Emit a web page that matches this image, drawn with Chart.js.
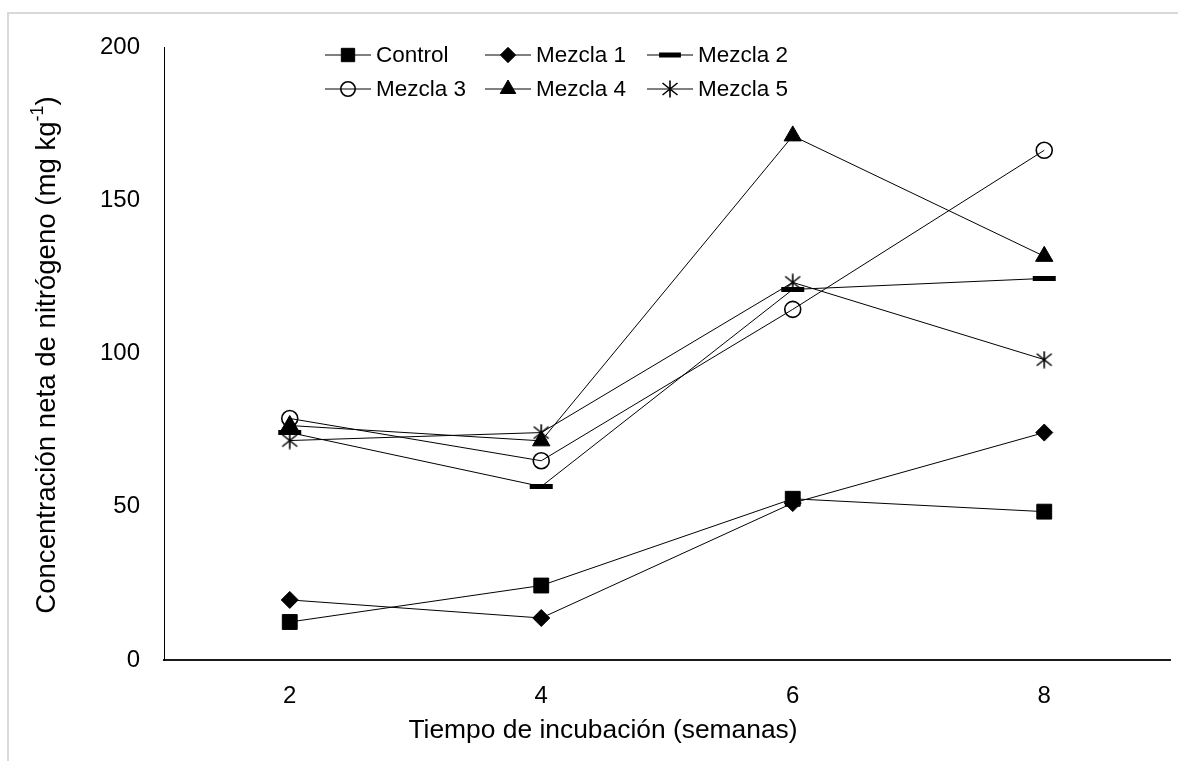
<!DOCTYPE html>
<html>
<head>
<meta charset="utf-8">
<script src="https://cdn.jsdelivr.net/npm/chart.js@4/dist/chart.umd.min.js"></script>
<style>
  html,body{margin:0;padding:0;background:#fff}
  #wrap{position:relative;width:1178px;height:761px;overflow:hidden}
  #frame{position:absolute;left:7px;top:12px;width:1200px;height:800px;border-top:2px solid #d9d9d9;border-left:2px solid #d9d9d9}
  canvas{position:absolute;left:0;top:0}
</style>
</head>
<body>
<div id="wrap">
  <div id="frame"></div>
  <canvas id="chart" width="1178" height="761"></canvas>
</div>
<script>
/* ===== datos ===== */
const semanas = ['2','4','6','8'];
const control = [12.4, 24.3, 52.6, 48.4];
const mezcla1 = [19.6, 13.7, 51.2, 74.2];
const mezcla2 = [74.2, 56.6, 120.9, 124.5];
const mezcla3 = [78.8, 65.0, 114.4, 166.3];
const mezcla4 = [76.5, 71.5, 171.0, 131.7];
const mezcla5 = [71.6, 74.2, 123.2, 98.0];
const nombres = ['Control','Mezcla 1','Mezcla 2','Mezcla 3','Mezcla 4','Mezcla 5'];
const yTicks = [0, 50, 100, 150, 200];

const FONT = '"Liberation Sans", Arial, sans-serif';
const INK = '#000';

// asterisco tipo Excel (X + barra vertical)
function makeStar(){
  const c = document.createElement('canvas');
  c.width = 18; c.height = 18;
  const g = c.getContext('2d');
  g.strokeStyle = INK; g.lineWidth = 1.6;
  g.beginPath();
  g.moveTo(9,0.5); g.lineTo(9,17.5);
  g.moveTo(1.5,3); g.lineTo(16.5,15);
  g.moveTo(16.5,3); g.lineTo(1.5,15);
  g.stroke();
  return c;
}
const starImg = makeStar();

const marks = [
  {pointStyle:'rect',     pointRadius:10.5, pointBorderWidth:1, fill:INK},
  {pointStyle:'rectRot',  pointRadius:8.5,  pointBorderWidth:1, fill:INK},
  {pointStyle:'line',     pointRadius:11.5, pointBorderWidth:5, fill:INK},
  {pointStyle:'circle',   pointRadius:8,    pointBorderWidth:1.6, fill:'rgba(255,255,255,0)'},
  {pointStyle:'triangle', pointRadius:10,   pointBorderWidth:1, fill:INK},
  {pointStyle:starImg,    pointRadius:9,    pointBorderWidth:1, fill:INK}
];
const series = [control, mezcla1, mezcla2, mezcla3, mezcla4, mezcla5];

const datasets = series.map((d,i)=>({
  label: nombres[i], data: d,
  borderColor: INK, borderWidth: 1, tension: 0, fill: false,
  pointStyle: marks[i].pointStyle,
  pointRadius: marks[i].pointRadius,
  pointHoverRadius: marks[i].pointRadius,
  pointBorderWidth: marks[i].pointBorderWidth,
  pointBorderColor: INK,
  pointBackgroundColor: marks[i].fill
}));

/* ===== leyenda y títulos ===== */
const LEG_X = [325, 485, 647], LEG_Y = [55, 89];

const extras = {
  id:'extras',
  afterDraw(chart){
    const ctx = chart.ctx;
    ctx.save();
    // leyenda
    ctx.font = `22.5px ${FONT}`;
    ctx.textBaseline = 'middle';
    ctx.textAlign = 'left';
    nombres.forEach((n,i)=>{
      const x0 = LEG_X[i%3], y = LEG_Y[Math.floor(i/3)];
      ctx.strokeStyle = INK; ctx.lineWidth = 1;
      ctx.beginPath(); ctx.moveTo(x0, y); ctx.lineTo(x0+46, y); ctx.stroke();
      ctx.fillStyle = marks[i].fill; ctx.strokeStyle = INK;
      ctx.lineWidth = marks[i].pointBorderWidth;
      Chart.helpers.drawPoint(ctx, {
        pointStyle: marks[i].pointStyle,
        radius: marks[i].pointRadius * (i===2 ? 0.95 : 0.9),
        rotation: 0, borderWidth: marks[i].pointBorderWidth
      }, x0+23, y);
      ctx.fillStyle = INK;
      ctx.fillText(n, x0+51, y+1);
    });

    // título eje x
    ctx.font = `26.4px ${FONT}`;
    ctx.textAlign = 'center';
    ctx.fillText('Tiempo de incubación (semanas)', 603, 731);

    // título eje y con superíndice
    const main = 'Concentración neta de nitrógeno (mg kg', sup = '-1', end = ')';
    ctx.translate(47, 355);
    ctx.rotate(-Math.PI/2);
    ctx.textAlign = 'left';
    ctx.font = `27.6px ${FONT}`;
    const w1 = ctx.measureText(main).width, w3 = ctx.measureText(end).width;
    ctx.font = `18px ${FONT}`;
    const w2 = ctx.measureText(sup).width;
    let x = -(w1+w2+w3)/2;
    ctx.font = `27.6px ${FONT}`;
    ctx.fillText(main, x, 0); x += w1;
    ctx.font = `18px ${FONT}`;
    ctx.fillText(sup, x, -8.5); x += w2;
    ctx.font = `27.6px ${FONT}`;
    ctx.fillText(end, x, 0);
    ctx.restore();
  }
};

new Chart(document.getElementById('chart'), {
  type:'line',
  data:{labels: semanas, datasets},
  options:{
    responsive:false, animation:false,
    layout:{autoPadding:false, padding:{top:47, right:8, left:0, bottom:0}},
    plugins:{legend:{display:false}, tooltip:{enabled:false}},
    scales:{
      x:{
        offset:true,
        grid:{display:false, drawTicks:false},
        border:{display:true, color:'#1a1a1a', width:2},
        ticks:{color:INK, font:{family:FONT, size:24}, padding:22},
        afterFit: s => { s.height = 101; s.paddingLeft = 0; s.paddingRight = 0; }
      },
      y:{
        min:0, max:200,
        afterBuildTicks: s => { s.ticks = yTicks.map(v=>({value:v})); },
        grid:{display:false, drawTicks:false},
        border:{display:true, color:INK, width:1},
        ticks:{color:INK, font:{family:FONT, size:24}, padding:24},
        afterFit: s => { s.width = 164; s.paddingTop = 0; s.paddingBottom = 0; }
      }
    }
  },
  plugins:[extras]
});
</script>
</body>
</html>
